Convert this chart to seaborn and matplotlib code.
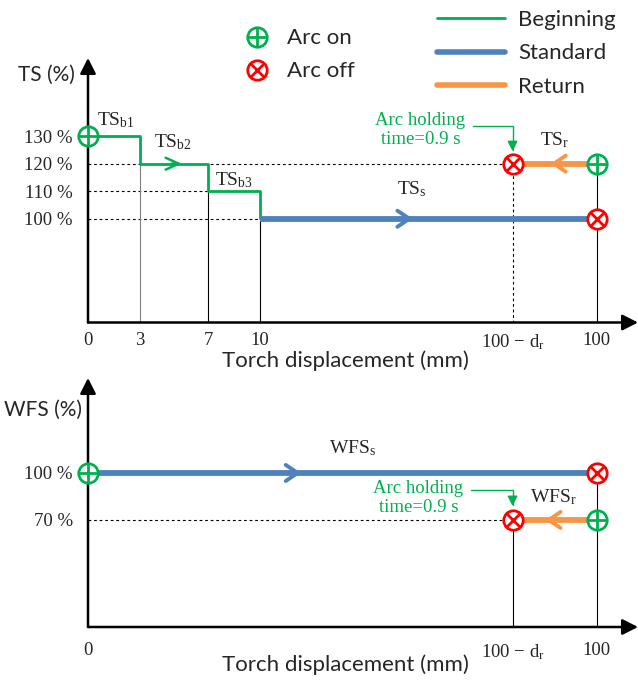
import matplotlib
matplotlib.use("Agg")
import matplotlib.pyplot as plt
import seaborn as sns
import pandas as pd
from matplotlib.lines import Line2D
from matplotlib.legend_handler import HandlerTuple

# displacement marks on the schematic (not to scale) torch-path axis
mark_pos = [0, 3, 7, 10, 24.7, 29.6]
mark_lab = ["0", "3", "7", "10", r"100 − d$_{\rm r}$", "100"]

# travel speed TS (% of nominal)
ts_begin_edges = [0, 3, 7, 10]
ts_begin_levels = [130, 120, 110]
ts_standard = 100
ts_return = 120
ts_ticks = [100, 110, 120, 130]

# wire feed speed WFS (% of nominal)
wfs_standard = 100
wfs_return = 70
wfs_ticks = [70, 100]

x_start = mark_pos[0]
x_std = ts_begin_edges[-1]
x_ret = mark_pos[-2]
x_end = mark_pos[-1]

GREEN = "#00B050"
BLUE = "#4F81BD"
ORANGE = "#F79646"
RED = "#FF0000"
SERIF = "Liberation Serif"
SANS = "Lato"
FS_SERIF = 13.5
FS_SANS = 16

sns.set_theme(style="white")
plt.rcParams["font.family"] = [SERIF, "DejaVu Sans"]
plt.rcParams["mathtext.fontset"] = "custom"
plt.rcParams["mathtext.rm"] = SERIF
plt.rcParams["mathtext.it"] = SERIF + ":italic"

fig = plt.figure(figsize=(6.38, 6.82), dpi=100)
ax_ts = fig.add_axes([88 / 638, 1 - 322.5 / 682, 550 / 638, 264.5 / 682])
ax_wfs = fig.add_axes([88 / 638, 1 - 627 / 682, 550 / 638, 249 / 682])
ax_ts.set_ylim(62.3, 158.4)
ax_wfs.set_ylim(1.7, 160.6)


def seg(ax, xs, ys, color, lw, z=3):
    df = pd.DataFrame({"x": xs, "y": ys})
    sns.lineplot(data=df, x="x", y="y", sort=False, estimator=None,
                 color=color, lw=lw, ax=ax, legend=False, zorder=z,
                 solid_capstyle="butt")


def guide(ax, xs, ys, dotted=True, color="black"):
    ax.plot(xs, ys, color=color, lw=0.8,
            ls=(0, (2.5, 2.5)) if dotted else "-", zorder=1)


def arc(ax, x, y, on):
    c = GREEN if on else RED
    ax.plot(x, y, marker="o", ms=14, mfc="white", mec=c, mew=2,
            zorder=6, clip_on=False)
    ax.plot(x, y, marker="+" if on else "x", ms=14 if on else 10,
            mec=c, mew=2, zorder=7, clip_on=False)


def mid_arrow(ax, x, y, direction, color, lw, hl, hw):
    ax.annotate("", xy=(x, y), xytext=(x - 0.6 * direction, y),
                arrowprops=dict(arrowstyle=f"->,head_length={hl},head_width={hw}",
                                color=color, lw=lw, shrinkA=0, shrinkB=0,
                                mutation_scale=10),
                zorder=5)


def axis_frame(ax):
    for s in ax.spines.values():
        s.set_visible(False)
    kw = dict(arrowstyle="-|>,head_length=0.67,head_width=0.34", color="black",
              lw=1.8, shrinkA=0, shrinkB=0, mutation_scale=14)
    ax.annotate("", xy=(1, 0), xytext=(0, 0), xycoords="axes fraction",
                arrowprops=kw, annotation_clip=False)
    ax.annotate("", xy=(0, 1), xytext=(0, 0), xycoords="axes fraction",
                arrowprops=kw, annotation_clip=False)
    ax.set_xlim(0, 32)
    ax.tick_params(length=0)
    ax.grid(False)


def holding_note(ax, y, text_off, corner_off, tip_gap):
    ax.annotate("Arc holding\ntime=0.9 s", xy=(x_ret, y), xytext=text_off,
                textcoords="offset pixels", ha="center", va="center",
                color=GREEN, fontsize=FS_SERIF, family=SERIF, linespacing=1.15)
    ax.annotate("", xy=(x_ret, y), xytext=corner_off, textcoords="offset pixels",
                arrowprops=dict(arrowstyle="-|>,head_length=0.6,head_width=0.3",
                                connectionstyle="angle,angleA=0,angleB=90,rad=0",
                                color=GREEN, lw=1.0, shrinkA=0, shrinkB=tip_gap,
                                mutation_scale=10))


def sublabel(ax, text, xy, off):
    ax.annotate(text, xy=xy, xytext=off, textcoords="offset pixels",
                ha="left", va="baseline", fontsize=FS_SERIF + 0.5, family=SERIF)


# ---------------- travel speed ----------------
ax = ax_ts
axis_frame(ax)
ymin = ax.get_ylim()[0]
bx, by = [], []
for i, lev in enumerate(ts_begin_levels):
    bx += [ts_begin_edges[i], ts_begin_edges[i + 1]]
    by += [lev, lev]
bx.append(x_std)
by.append(ts_standard)

guide(ax, [x_start, x_ret], [ts_return, ts_return])
guide(ax, [x_start, ts_begin_edges[2]], [ts_begin_levels[2]] * 2)
guide(ax, [x_start, x_std], [ts_standard] * 2)
guide(ax, [ts_begin_edges[1]] * 2, [ymin, ts_begin_levels[1]], dotted=False, color="#7F7F7F")
guide(ax, [ts_begin_edges[2]] * 2, [ymin, ts_begin_levels[2]], dotted=False)
guide(ax, [x_std] * 2, [ymin, ts_standard], dotted=False)
guide(ax, [x_ret] * 2, [ymin, ts_return])
guide(ax, [x_end] * 2, [ymin, ts_return], dotted=False)

seg(ax, bx, by, GREEN, 2.0)
seg(ax, [x_std, x_end], [ts_standard] * 2, BLUE, 4.2)
seg(ax, [x_end, x_ret], [ts_return] * 2, ORANGE, 4.2)

mid_arrow(ax, 5.45, ts_begin_levels[1], 1, GREEN, 1.8, 0.94, 0.43)
mid_arrow(ax, 18.9, ts_standard, 1, BLUE, 2.8, 0.86, 0.58)
mid_arrow(ax, 26.9, ts_return, -1, ORANGE, 2.8, 0.86, 0.58)

arc(ax, x_start, ts_begin_levels[0], True)
arc(ax, x_end, ts_return, True)
arc(ax, x_ret, ts_return, False)
arc(ax, x_end, ts_standard, False)

sublabel(ax, r"TS$_{\rm b1}$", (ts_begin_edges[0], ts_begin_levels[0]), (9, 11))
sublabel(ax, r"TS$_{\rm b2}$", (ts_begin_edges[1], ts_begin_levels[1]), (14, 16))
sublabel(ax, r"TS$_{\rm b3}$", (ts_begin_edges[2], ts_begin_levels[2]), (7, 6))
sublabel(ax, r"TS$_{\rm s}$", (18.9, ts_standard), (-16, 24))
sublabel(ax, r"TS$_{\rm r}$", (x_end, ts_return), (-57, 18))
holding_note(ax, ts_return, (-92, 34), (-40, 38), 9)

ax.set_xticks(mark_pos)
ax.set_xticklabels(mark_lab, fontsize=FS_SERIF, family=SERIF)
ax.set_yticks(ts_ticks)
ax.set_yticklabels([f"{v} %" for v in ts_ticks], fontsize=FS_SERIF, family=SERIF)
ax.tick_params(axis="x", pad=7)
ax.tick_params(axis="y", pad=11)
ax.set_xlabel("Torch displacement (mm)", fontsize=FS_SANS, family=SANS)
ax.xaxis.set_label_coords(0.468, -0.105)
ax.set_ylabel("TS (%)", rotation=0, ha="right", va="center", fontsize=FS_SANS - 1, family=SANS)
ax.yaxis.set_label_coords(-0.024, 0.935)

# ---------------- wire feed speed ----------------
ax = ax_wfs
axis_frame(ax)
ymin = ax.get_ylim()[0]
guide(ax, [x_start, x_ret], [wfs_return] * 2)
guide(ax, [x_ret] * 2, [ymin, wfs_return], dotted=False)
guide(ax, [x_end] * 2, [ymin, wfs_standard], dotted=False)

seg(ax, [x_start, x_end], [wfs_standard] * 2, BLUE, 4.2)
seg(ax, [x_end, x_ret], [wfs_return] * 2, ORANGE, 4.2)

mid_arrow(ax, 12.4, wfs_standard, 1, BLUE, 2.8, 0.86, 0.58)
mid_arrow(ax, 26.6, wfs_return, -1, ORANGE, 2.8, 0.86, 0.58)

arc(ax, x_start, wfs_standard, True)
arc(ax, x_end, wfs_standard, False)
arc(ax, x_end, wfs_return, True)
arc(ax, x_ret, wfs_return, False)

sublabel(ax, r"WFS$_{\rm s}$", (12.4, wfs_standard), (28, 20))
sublabel(ax, r"WFS$_{\rm r}$", (x_end, wfs_return), (-67, 18))
holding_note(ax, wfs_return, (-94, 22), (-42, 30), 10)

wfs_marks = [mark_pos[0], mark_pos[-2], mark_pos[-1]]
ax.set_xticks(wfs_marks)
ax.set_xticklabels([mark_lab[0], mark_lab[-2], mark_lab[-1]], fontsize=FS_SERIF, family=SERIF)
ax.set_yticks(wfs_ticks)
ax.set_yticklabels([f"{v} %" for v in wfs_ticks], fontsize=FS_SERIF, family=SERIF)
ax.tick_params(axis="x", pad=11)
ax.tick_params(axis="y", pad=11)
ax.set_xlabel("Torch displacement (mm)", fontsize=FS_SANS, family=SANS)
ax.xaxis.set_label_coords(0.468, -0.11)
ax.set_ylabel("WFS (%)", rotation=0, ha="right", va="center", fontsize=FS_SANS - 1, family=SANS)
ax.yaxis.set_label_coords(-0.011, 0.8715)

# ---------------- legends ----------------
h_on = (Line2D([], [], ls="none", marker="o", ms=14, mfc="white", mec=GREEN, mew=2),
        Line2D([], [], ls="none", marker="+", ms=14, mec=GREEN, mew=2))
h_off = (Line2D([], [], ls="none", marker="o", ms=14, mfc="white", mec=RED, mew=2),
         Line2D([], [], ls="none", marker="x", ms=10, mec=RED, mew=2))
fig.legend([h_on, h_off], ["Arc on", "Arc off"], handler_map={tuple: HandlerTuple(ndivide=1)},
           loc="upper left", bbox_to_anchor=(246 / 638, 1 - 28.5 / 682), frameon=False,
           borderpad=0, borderaxespad=0, handlelength=1.0, handletextpad=0.85,
           labelspacing=0.58, prop=dict(family=SANS, size=FS_SANS))
fig.legend([Line2D([], [], color=GREEN, lw=2.0), Line2D([], [], color=BLUE, lw=4.0),
            Line2D([], [], color=ORANGE, lw=4.0)], ["Beginning", "Standard", "Return"],
           loc="upper left", bbox_to_anchor=(437 / 638, 1 - 10 / 682), frameon=False,
           borderpad=0, borderaxespad=0, handlelength=3.06, handletextpad=0.59,
           labelspacing=0.6, prop=dict(family=SANS, size=FS_SANS))

fig.savefig("out.png", dpi=100)
